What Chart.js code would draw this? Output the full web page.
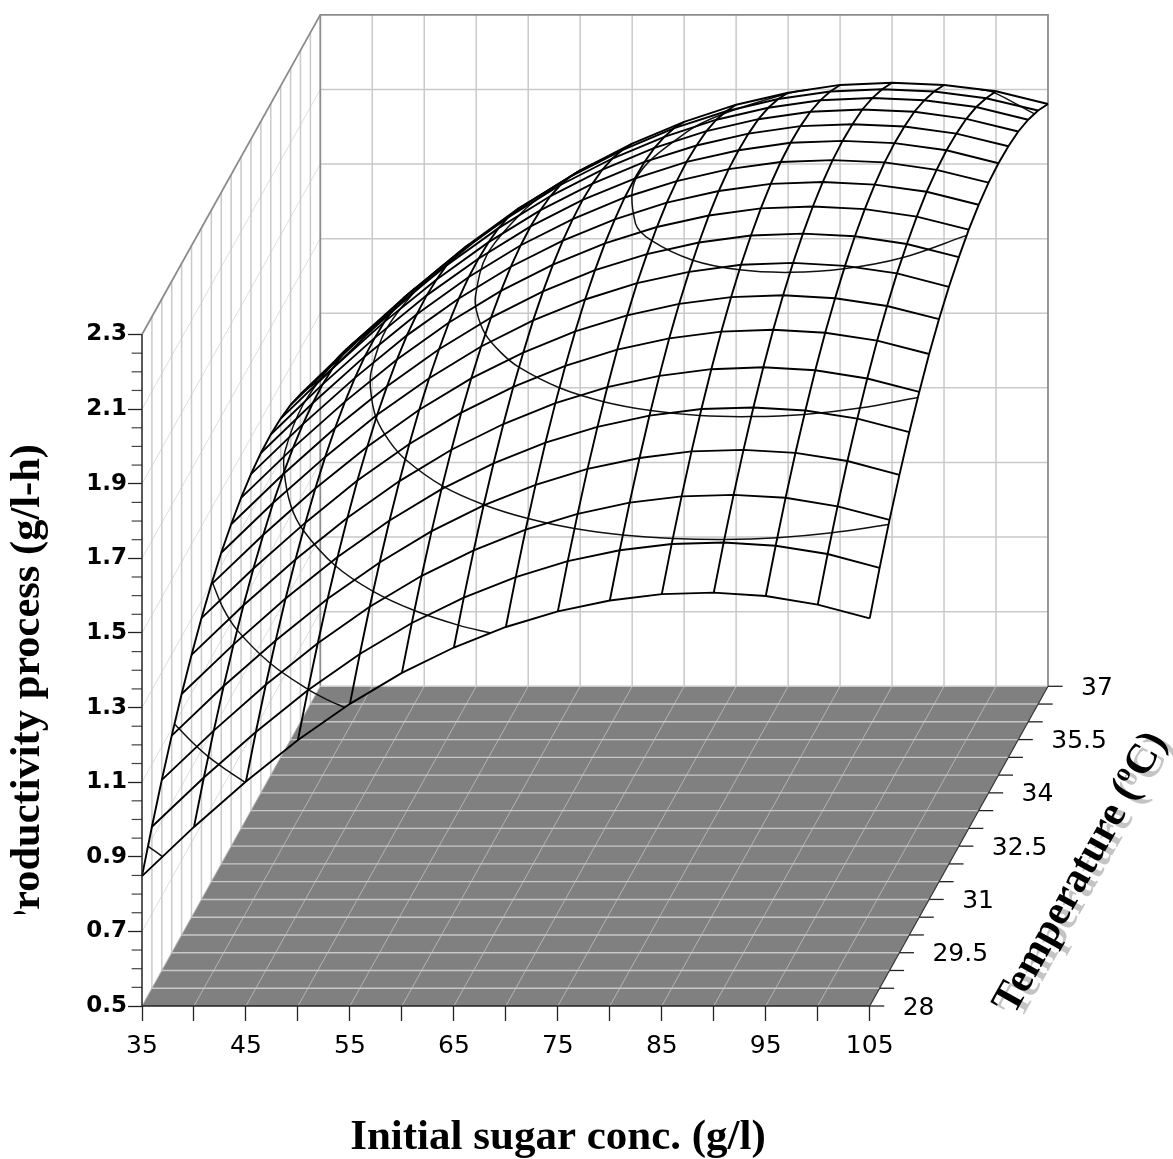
<!DOCTYPE html>
<html>
<head>
<meta charset="utf-8">
<title>Productivity surface</title>
<script src="https://cdn.jsdelivr.net/npm/chart.js@4"></script>
<style>
  html, body { margin: 0; padding: 0; background: #fff; }
  canvas { display: block; }
</style>
</head>
<body>
<canvas id="surfaceChart" width="1173" height="1159"></canvas>
<script>
// ------------------------------------------------------------
// Data
// ------------------------------------------------------------
const sugarGrid = [35, 40, 45, 50, 55, 60, 65, 70, 75, 80, 85, 90, 95, 100, 105];
const tempGrid  = [28, 28.5, 29, 29.5, 30, 30.5, 31, 31.5, 32, 32.5, 33, 33.5, 34, 34.5, 35, 35.5, 36, 36.5, 37];

// one row per temperature, one column per sugar conc.
const productivity = [
  [0.848, 0.980, 1.102, 1.213, 1.310, 1.393, 1.461, 1.516, 1.558, 1.587, 1.604, 1.608, 1.599, 1.576, 1.539],
  [0.933, 1.065, 1.187, 1.299, 1.396, 1.479, 1.547, 1.602, 1.645, 1.674, 1.691, 1.695, 1.686, 1.664, 1.627],
  [1.011, 1.143, 1.266, 1.377, 1.475, 1.558, 1.626, 1.682, 1.724, 1.754, 1.771, 1.775, 1.767, 1.744, 1.708],
  [1.082, 1.215, 1.337, 1.449, 1.546, 1.630, 1.699, 1.754, 1.797, 1.826, 1.844, 1.848, 1.840, 1.818, 1.781],
  [1.146, 1.279, 1.402, 1.513, 1.611, 1.695, 1.764, 1.820, 1.862, 1.892, 1.910, 1.914, 1.906, 1.884, 1.848],
  [1.203, 1.336, 1.459, 1.571, 1.669, 1.753, 1.822, 1.878, 1.921, 1.951, 1.969, 1.974, 1.966, 1.944, 1.908],
  [1.254, 1.387, 1.510, 1.623, 1.721, 1.805, 1.874, 1.930, 1.974, 2.004, 2.022, 2.027, 2.019, 1.998, 1.962],
  [1.297, 1.430, 1.554, 1.666, 1.765, 1.849, 1.918, 1.975, 2.018, 2.049, 2.067, 2.072, 2.064, 2.043, 2.008],
  [1.334, 1.468, 1.591, 1.704, 1.802, 1.887, 1.957, 2.013, 2.057, 2.087, 2.106, 2.111, 2.103, 2.083, 2.047],
  [1.363, 1.497, 1.621, 1.733, 1.832, 1.917, 1.987, 2.044, 2.087, 2.118, 2.137, 2.142, 2.135, 2.114, 2.079],
  [1.386, 1.520, 1.644, 1.757, 1.856, 1.941, 2.011, 2.068, 2.112, 2.143, 2.162, 2.167, 2.160, 2.140, 2.105],
  [1.402, 1.536, 1.660, 1.774, 1.873, 1.958, 2.028, 2.085, 2.130, 2.161, 2.180, 2.185, 2.178, 2.159, 2.124],
  [1.411, 1.545, 1.670, 1.783, 1.883, 1.968, 2.038, 2.096, 2.140, 2.172, 2.191, 2.196, 2.190, 2.170, 2.136],
  [1.413, 1.548, 1.672, 1.786, 1.885, 1.971, 2.042, 2.099, 2.144, 2.175, 2.195, 2.200, 2.194, 2.175, 2.140],
  [1.408, 1.543, 1.668, 1.781, 1.881, 1.967, 2.038, 2.096, 2.140, 2.172, 2.192, 2.197, 2.191, 2.172, 2.138],
  [1.397, 1.532, 1.657, 1.771, 1.871, 1.957, 2.028, 2.086, 2.131, 2.163, 2.183, 2.189, 2.183, 2.164, 2.130],
  [1.378, 1.513, 1.638, 1.753, 1.853, 1.939, 2.010, 2.068, 2.114, 2.146, 2.166, 2.172, 2.166, 2.148, 2.114],
  [1.352, 1.487, 1.613, 1.727, 1.828, 1.914, 1.985, 2.044, 2.089, 2.122, 2.142, 2.148, 2.142, 2.124, 2.091],
  [1.320, 1.456, 1.581, 1.696, 1.796, 1.883, 1.955, 2.013, 2.059, 2.091, 2.112, 2.118, 2.112, 2.095, 2.061],
];

// contour lines on the surface: level, then sugar and temperature along the line
const contourLevels = [0.9, 1.1, 1.3, 1.5, 1.7, 1.9, 2.1, 2.1];
const contourSugar = [
  [37, 36, 35],
  [44.9, 42.5, 40, 37.5, 35],
  [54.5, 52.5, 50, 45, 40, 37.5, 35],
  [68.55, 65, 60, 55, 50, 45, 42.5, 40, 39, 38.25, 39, 40, 41, 41.76],
  [105, 100, 95, 90, 85, 80, 75, 70, 65, 60, 55, 52.5, 50, 48, 47, 46.2, 47, 48, 50, 50.2],
  [105, 100, 95, 90, 85, 80, 75, 70, 65, 62.5, 60, 58, 57, 55.9, 57, 58, 60, 61.2],
  [105, 100, 95, 90, 85, 80, 75, 72.5, 70.15, 72.5, 75, 80, 82],
  [105, 100, 98.5],
];
const contourTemp = [
  [28, 28.15, 28.3],
  [28, 28.34, 28.72, 29.16, 29.64],
  [28, 28.21, 28.51, 29.24, 30.18, 30.79, 31.54],
  [28, 28.22, 28.63, 29.17, 29.89, 30.89, 31.58, 32.55, 33.12, 34.41, 35.7, 36.28, 36.73, 37],
  [28.95, 28.72, 28.58, 28.53, 28.56, 28.66, 28.84, 29.12, 29.51, 30.04, 30.79, 31.3, 31.95, 32.72, 33.28, 34.43, 35.59, 36.15, 36.95, 37],
  [30.43, 30.13, 29.95, 29.89, 29.92, 30.06, 30.31, 30.7, 31.28, 31.69, 32.21, 32.83, 33.29, 34.45, 35.64, 36.1, 36.73, 37],
  [32.89, 32.26, 31.95, 31.85, 31.92, 32.19, 32.74, 33.23, 34.5, 35.79, 36.3, 36.87, 37],
  [36.31, 36.91, 37],
];

// axis ticks
const sugarTicks     = [35, 40, 45, 50, 55, 60, 65, 70, 75, 80, 85, 90, 95, 100, 105];
const sugarLabels    = [35, 45, 55, 65, 75, 85, 95, 105];
const tempLabels     = [28, 29.5, 31, 32.5, 34, 35.5, 37];
const prodMajorTicks = [0.5, 0.7, 0.9, 1.1, 1.3, 1.5, 1.7, 1.9, 2.1, 2.3];
const prodMinorTicks = [0.55, 0.6, 0.65, 0.75, 0.8, 0.85, 0.95, 1.0, 1.05, 1.15, 1.2, 1.25, 1.35, 1.4, 1.45,
                        1.55, 1.6, 1.65, 1.75, 1.8, 1.85, 1.95, 2.0, 2.05, 2.15, 2.2, 2.25];

const X_TITLE = 'Initial sugar conc. (g/l)';
const Y_TITLE = 'Productivity process (g/l-h)';
const T_TITLE = 'Temperature (';

// ------------------------------------------------------------
// Oblique projection: temperature shears the sugar / productivity plane
// ------------------------------------------------------------
const T0 = 28, T1 = 37, S0 = 35, S1 = 105, Z0 = 0.5, Z1 = 2.3;
const X_MAX = 122.15, Y_MAX = 3.157;
const SHEAR_X = (X_MAX - S1) / (T1 - T0);
const SHEAR_Y = (Y_MAX - Z1) / (T1 - T0);

function project(sugar, temp, prod) {
  return { x: sugar + (temp - T0) * SHEAR_X, y: prod + (temp - T0) * SHEAR_Y };
}

const datasets = [];

function addLine(points, color, width, order, extra) {
  datasets.push(Object.assign({
    data: points,
    showLine: true,
    borderColor: color,
    borderWidth: width,
    pointRadius: 0,
    clip: false,
    order: order,
  }, extra || {}));
}

// walls
const WALL = '#c9c9c9', WALL_DIAG = '#dedede', EDGE = '#8c8c8c';
sugarTicks.slice(1, -1).forEach(s => addLine([project(s, T1, Z0), project(s, T1, Z1)], WALL, 1.5, 9));
prodMajorTicks.slice(1, -1).forEach(z => addLine([project(S0, T1, z), project(S1, T1, z)], WALL, 1.5, 9));
tempGrid.slice(1, -1).forEach(t => addLine([project(S0, t, Z0), project(S0, t, Z1)], WALL, 1.5, 9));
prodMajorTicks.slice(1, -1).forEach(z => addLine([project(S0, T0, z), project(S0, T1, z)], WALL_DIAG, 1, 9));
addLine([project(S0, T0, Z1), project(S0, T1, Z1), project(S1, T1, Z1), project(S1, T1, Z0)], EDGE, 1.8, 8);
addLine([project(S0, T1, Z0), project(S0, T1, Z1)], EDGE, 1.8, 8);

// floor
addLine([project(S0, T0, Z0), project(S1, T0, Z0), project(S1, T1, Z0), project(S0, T1, Z0), project(S0, T0, Z0)],
  'rgba(0,0,0,0)', 0, 7, { fill: 'shape', backgroundColor: '#808080' });
tempGrid.slice(1).forEach(t => addLine([project(S0, t, Z0), project(S1, t, Z0)], '#c8c8c8', 1.4, 6));
sugarTicks.forEach(s => addLine([project(s, T0, Z0), project(s, T1, Z0)], '#b4b4b4', 1, 6));

// contours under the mesh
contourLevels.forEach((level, k) => {
  const pts = contourSugar[k].map((s, i) => project(s, contourTemp[k][i], level));
  addLine(pts, '#111', 1.5, 3, { tension: 0.35 });
});

// surface mesh
tempGrid.forEach((t, r) => {
  addLine(sugarGrid.map((s, c) => project(s, t, productivity[r][c])), '#000', 1.9, 2);
});
sugarGrid.forEach((s, c) => {
  addLine(tempGrid.map((t, r) => project(s, t, productivity[r][c])), '#000', 1.9, 2);
});

// axes lines and the ticks that Chart.js cannot place (oblique temp axis, short minor ticks)
addLine([project(S0, T0, Z0), project(S0, T0, Z1)], '#222', 1.5, 1);
addLine([project(S0, T0, Z0), project(S1, T0, Z0)], '#222', 1.5, 1);
addLine([project(S1, T0, Z0), project(S1, T1, Z0)], '#333', 1.2, 1);
tempGrid.forEach(t => {
  const a = project(S1, t, Z0);
  addLine([a, { x: a.x + 1.4, y: a.y }], '#222', 1.3, 1);
});
prodMinorTicks.forEach(z => addLine([{ x: S0 - 1, y: z }, { x: S0, y: z }], '#444', 1.2, 1));

// ------------------------------------------------------------
// Titles and temperature labels
// ------------------------------------------------------------
const textPlugin = {
  id: 'surfaceText',
  afterDraw(chart) {
    const ctx = chart.ctx, sx = chart.scales.x, sy = chart.scales.y;

    // temperature tick labels
    ctx.save();
    ctx.fillStyle = '#000';
    ctx.font = '25px "DejaVu Sans"';
    ctx.textAlign = 'left';
    ctx.textBaseline = 'middle';
    tempLabels.forEach(t => {
      const p = project(S1, t, Z0);
      ctx.fillText(String(t), sx.getPixelForValue(p.x) + 33, sy.getPixelForValue(p.y) + 2);
    });
    ctx.restore();

    // x title
    ctx.save();
    ctx.fillStyle = '#000';
    ctx.font = 'bold 43px "Liberation Serif"';
    ctx.textAlign = 'center';
    ctx.textBaseline = 'alphabetic';
    ctx.fillText(X_TITLE, 558, 1149);
    ctx.restore();

    // y title, its start is cut off in the source figure
    ctx.save();
    ctx.beginPath();
    ctx.rect(0, 0, 120, 914);
    ctx.clip();
    ctx.translate(39, 444);
    ctx.rotate(-Math.PI / 2);
    ctx.fillStyle = '#000';
    ctx.font = 'bold 42.5px "Liberation Serif"';
    ctx.textAlign = 'right';
    ctx.textBaseline = 'alphabetic';
    ctx.fillText(Y_TITLE, 0, 0);
    ctx.restore();

    // temperature title with its grey shadow
    const drawTempTitle = (color, dx, dy) => {
      ctx.save();
      ctx.translate(1014 + dx, 1016 + dy);
      ctx.rotate(-61 * Math.PI / 180);
      ctx.fillStyle = color;
      ctx.font = 'bold 42px "Liberation Serif"';
      ctx.textAlign = 'left';
      ctx.textBaseline = 'alphabetic';
      ctx.fillText(T_TITLE, 0, 0);
      let w = ctx.measureText(T_TITLE).width;
      ctx.font = 'bold 26px "Liberation Serif"';
      ctx.fillText('o', w, -15);
      w += ctx.measureText('o').width;
      ctx.font = 'bold 42px "Liberation Serif"';
      ctx.fillText('C)', w, 0);
      ctx.restore();
    };
    drawTempTitle('#c4c4c4', 7, 4);
    drawTempTitle('#000', 0, 0);
  },
};

// ------------------------------------------------------------
// Chart
// ------------------------------------------------------------
new Chart(document.getElementById('surfaceChart'), {
  type: 'scatter',
  data: { datasets },
  plugins: [textPlugin],
  options: {
    responsive: false,
    animation: false,
    events: [],
    layout: { padding: { top: 14, right: 125, left: 0, bottom: 0 } },
    plugins: { legend: { display: false }, tooltip: { enabled: false }, title: { display: false } },
    scales: {
      x: {
        type: 'linear',
        min: S0,
        max: X_MAX,
        afterFit(scale) { scale.height = 153; },
        afterBuildTicks(scale) { scale.ticks = sugarTicks.map(v => ({ value: v })); },
        border: { display: false },
        grid: { drawOnChartArea: false, drawTicks: true, tickLength: 15, tickColor: '#222', tickWidth: 1.3 },
        ticks: {
          autoSkip: false,
          maxRotation: 0,
          padding: 10,
          color: '#000',
          font: { family: '"DejaVu Sans"', size: 25 },
          callback: v => (sugarLabels.includes(v) ? String(v) : ''),
        },
      },
      y: {
        type: 'linear',
        min: Z0,
        max: Y_MAX,
        afterFit(scale) { scale.width = 142; },
        afterBuildTicks(scale) { scale.ticks = prodMajorTicks.map(v => ({ value: v })); },
        border: { display: false },
        grid: { drawOnChartArea: false, drawTicks: true, tickLength: 14, tickColor: '#222', tickWidth: 1.3 },
        ticks: {
          autoSkip: false,
          padding: 1,
          color: '#000',
          font: { family: '"DejaVu Sans"', size: 23, weight: 'bold' },
          callback: v => v.toFixed(1),
        },
      },
    },
  },
});
</script>
</body>
</html>
